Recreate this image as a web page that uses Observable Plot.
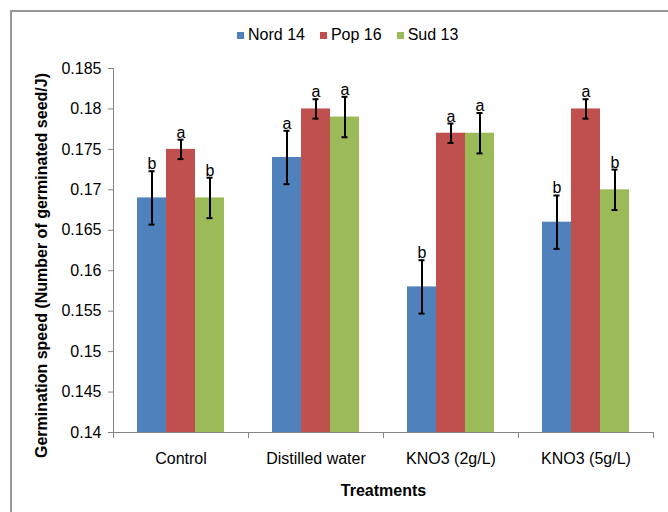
<!DOCTYPE html>
<html>
<head>
<meta charset="utf-8">
<script src="https://cdn.jsdelivr.net/npm/d3@7"></script>
<script src="https://cdn.jsdelivr.net/npm/@observablehq/plot@0.6"></script>
<style>
  body { margin: 0; background: #fff; font-family: "Liberation Sans", Arial, sans-serif; }
  #wrap { position: relative; width: 668px; height: 512px; overflow: hidden; }
  #border { position: absolute; left: 10px; top: 10px; width: 800px; height: 700px;
            border-left: 2px solid #979797; border-top: 2px solid #979797; }
  #legend { position: relative; height: 50px; box-sizing: border-box; padding-top: 20px; padding-left: 237px;
            display: flex; align-items: center; font-size: 16px; color: #000; }
  .item { display: flex; align-items: center; margin-right: 15px; }
  .sw { width: 7px; height: 7px; margin-right: 4px; }
  #chart { position: relative; }
  #chart svg { overflow: visible; }
  g[aria-label="y-axis tick"] path { stroke: #868686; }
</style>
</head>
<body>
<div id="wrap">
  <div id="border"></div>
  <div id="legend"></div>
  <div id="chart"></div>
</div>
<script>
// ---- data ----
const treatments = ["Control", "Distilled water", "KNO3 (2g/L)", "KNO3 (5g/L)"];
const series = ["Nord 14", "Pop 16", "Sud 13"];
const colors = ["#4F81BD", "#C0504D", "#9BBB59"];
const nord14 = [0.169, 0.174, 0.158, 0.166];
const pop16 = [0.175, 0.180, 0.177, 0.180];
const sud13 = [0.169, 0.179, 0.177, 0.170];
const nord14Err = [0.0033, 0.0033, 0.0033, 0.0033];
const pop16Err = [0.0012, 0.0012, 0.0012, 0.0012];
const sud13Err = [0.0025, 0.0025, 0.0025, 0.0025];
const nord14Letters = ["b", "a", "b", "b"];
const pop16Letters = ["a", "a", "a", "a"];
const sud13Letters = ["b", "a", "a", "b"];
const yTicks = [0.14, 0.145, 0.15, 0.155, 0.16, 0.165, 0.17, 0.175, 0.18, 0.185];
const yTitle = "Germination speed (Number of germinated seed/J)";
const xTitle = "Treatments";

const values = [nord14, pop16, sud13];
const errs = [nord14Err, pop16Err, sud13Err];
const letters = [nord14Letters, pop16Letters, sud13Letters];
const data = [];
treatments.forEach((t, i) => {
  series.forEach((s, j) => {
    data.push({treatment: t, series: s, value: values[j][i], err: errs[j][i], letter: letters[j][i]});
  });
});

// ---- legend ----
const legend = document.getElementById("legend");
series.forEach((s, j) => {
  const it = document.createElement("div");
  it.className = "item";
  it.innerHTML = `<div class="sw" style="background:${colors[j]}"></div><span>${s}</span>`;
  legend.appendChild(it);
});

// ---- chart ----
const W = 668, H = 462, mT = 18, mB = 80, mL = 112, mR = 15;
const frameH = H - mT - mB;
const yMin = yTicks[0], yMax = yTicks[yTicks.length - 1];
const axisColor = "#868686";

const chart = Plot.plot({
  width: W, height: H,
  marginTop: mT, marginBottom: mB, marginLeft: mL, marginRight: mR,
  style: {fontFamily: "'Liberation Sans', Arial, sans-serif", fontSize: "16px", color: "#000", background: "transparent", overflow: "visible"},
  fx: {domain: treatments, padding: 0},
  x: {domain: series, paddingInner: 0, paddingOuter: 0.754, axis: null},
  y: {domain: [yMin, yMax]},
  color: {domain: series, range: colors},
  marks: [
    Plot.barY(data, {fx: "treatment", x: "series", y1: yMin, y2: "value", fill: "series"}),
    Plot.ruleX(data, {fx: "treatment", x: "series", y1: d => d.value - d.err, y2: d => d.value + d.err, stroke: "#000", strokeWidth: 2}),
    Plot.tickY(data, {fx: "treatment", x: "series", y: d => d.value - d.err, stroke: "#000", strokeWidth: 2, insetLeft: 11.5, insetRight: 11.5}),
    Plot.tickY(data, {fx: "treatment", x: "series", y: d => d.value + d.err, stroke: "#000", strokeWidth: 2, insetLeft: 11.5, insetRight: 11.5}),
    Plot.text(data, {fx: "treatment", x: "series", y: d => d.value + d.err, text: "letter", lineAnchor: "bottom", dy: -2, fontSize: 16, fill: "#000"}),
    Plot.ruleY([yMin], {stroke: axisColor}),
    Plot.frame({anchor: "left", facetAnchor: "left", stroke: axisColor}),
    Plot.frame({anchor: "left", insetTop: frameH, insetBottom: -5, stroke: axisColor}),
    Plot.frame({anchor: "right", facetAnchor: "right", insetTop: frameH, insetBottom: -5, stroke: axisColor}),
    Plot.axisY({ticks: yTicks, tickFormat: d => String(d), tickSize: 5, tickPadding: 7, label: null}),
    Plot.axisFx({anchor: "bottom", tickSize: 0, tickPadding: 20, label: xTitle, labelAnchor: "center", labelOffset: 63, labelArrow: false}),
    Plot.text([yTitle], {frameAnchor: "left", facetAnchor: "left", rotate: -90, textAnchor: "middle", dx: -72, dy: 15, fontWeight: "bold", fontSize: 16, fill: "#000"})
  ]
});
document.getElementById("chart").appendChild(chart);
// bold x title
chart.querySelectorAll('g[aria-label="fx-axis label"] text').forEach(t => t.setAttribute("font-weight", "bold"));
</script>
</body>
</html>
